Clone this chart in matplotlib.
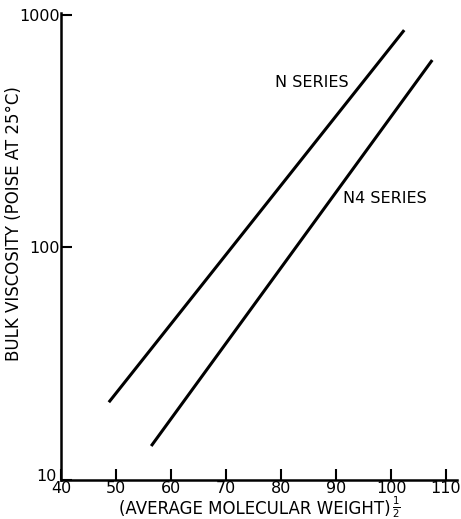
import matplotlib
matplotlib.use("Agg")
import matplotlib.pyplot as plt
from matplotlib.transforms import ScaledTranslation

# (molecular weight)^1/2 vs bulk viscosity, two straight lines
n_x = [48.7, 102.4]
n_visc = [21.6, 861]
n4_x = [56.4, 107.5]
n4_visc = [14.0, 640]

xticks = [40, 50, 60, 70, 80, 90, 100, 110]
yticks = [10, 100, 1000]

plt.rcParams['font.family'] = ['DejaVu Sans']

fig = plt.figure(figsize=(4.61, 5.19), dpi=100)
ax = fig.add_axes([61/461, 39/519, 396/461, 467/519])

ax.plot(n_x, n_visc, color='black', lw=2.2, solid_capstyle='butt')
ax.plot(n4_x, n4_visc, color='black', lw=2.2, solid_capstyle='butt')

ax.set_yscale('log')
ax.set_xlim(40, 112)
ax.set_ylim(10, 1020)

ax.set_xticks(xticks)
ax.set_xticklabels([str(v) for v in xticks])
ax.set_yticks(yticks)
ax.set_yticklabels([str(v) for v in yticks])
ax.minorticks_off()
ax.tick_params(direction='in', length=8, width=1.5, labelsize=11.5, pad=1)

# the "10" sits a little above and left of the corner in the original
lbl10 = ax.get_yticklabels()[0]
lbl10.set_transform(lbl10.get_transform() + ScaledTranslation(-3/100, 5/100, fig.dpi_scale_trans))

for s in ['top', 'right']:
    ax.spines[s].set_visible(False)
for s in ['left', 'bottom']:
    ax.spines[s].set_linewidth(1.8)

ax.text(78.9, 510, 'N SERIES', fontsize=11.5, va='center', ha='left')
ax.text(91.3, 163, 'N4 SERIES', fontsize=11.5, va='center', ha='left')

# x label, with the stacked 1/2 drawn as its own small text after the bracket
xl = fig.text(255/461, 5/519, '(AVERAGE MOLECULAR WEIGHT)', fontsize=12,
              ha='center', va='baseline')
r = fig.canvas.get_renderer()
bb = xl.get_window_extent(r)
fig.text((bb.x1 + 1) / 461, 11.5/519, r'$\frac{1}{2}$', fontsize=10.5,
         ha='left', va='center')

fig.text(14/461, (519-224)/519, 'BULK VISCOSITY (POISE AT 25°C)', fontsize=12,
         rotation=90, ha='center', va='center')

fig.savefig('out.png', dpi=100)
